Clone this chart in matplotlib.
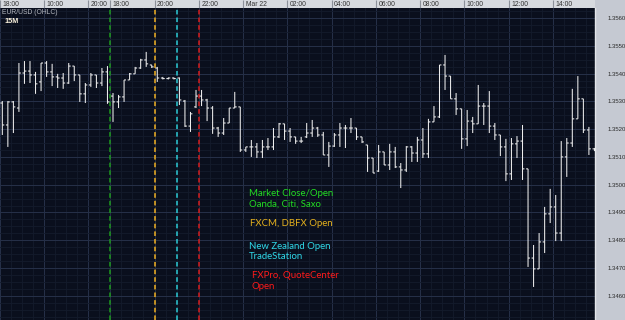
import matplotlib
matplotlib.use("Agg")
import matplotlib.pyplot as plt
import numpy as np

# EUR/USD 15 minute bars
opens = [1.35294, 1.35215, 1.35298, 1.35276, 1.35402, 1.35409, 1.35395, 1.35370, 1.35438, 1.35406,
         1.35388, 1.35384, 1.35366, 1.35427, 1.35395, 1.35327, 1.35359, 1.35395, 1.35366, 1.35406,
         1.35319, 1.35298, 1.35316, 1.35377, 1.35399, 1.35420, 1.35449, 1.35431, 1.35420, 1.35384,
         1.35382, 1.35384, 1.35384, 1.35301, 1.35211, 1.35280, 1.35319, 1.35305, 1.35276, 1.35204,
         1.35186, 1.35222, 1.35276, 1.35280, 1.35125, 1.35136, 1.35136, 1.35118, 1.35136, 1.35136,
         1.35172, 1.35219, 1.35193, 1.35172, 1.35157, 1.35172, 1.35186, 1.35204, 1.35179, 1.35107,
         1.35139, 1.35179, 1.35204, 1.35204, 1.35204, 1.35172, 1.35143, 1.35096, 1.35049, 1.35118,
         1.35071, 1.35118, 1.35064, 1.35053, 1.35136, 1.35114, 1.35161, 1.35111, 1.35226, 1.35244,
         1.35431, 1.35391, 1.35309, 1.35273, 1.35165, 1.35229, 1.35219, 1.35283, 1.35283, 1.35211,
         1.35179, 1.35136, 1.35039, 1.35147, 1.35157, 1.35057, 1.34736, 1.34697, 1.34794, 1.34895,
         1.34920, 1.34826, 1.35100, 1.35150, 1.35237, 1.35309, 1.35197, 1.35129]
highs = [1.35301, 1.35301, 1.35301, 1.35438, 1.35445, 1.35445, 1.35406, 1.35438, 1.35445, 1.35435,
         1.35399, 1.35402, 1.35438, 1.35427, 1.35395, 1.35366, 1.35402, 1.35395, 1.35420, 1.35427,
         1.35330, 1.35323, 1.35377, 1.35402, 1.35424, 1.35453, 1.35478, 1.35431, 1.35424, 1.35388,
         1.35386, 1.35386, 1.35386, 1.35305, 1.35262, 1.35341, 1.35341, 1.35309, 1.35283, 1.35208,
         1.35240, 1.35276, 1.35334, 1.35280, 1.35136, 1.35161, 1.35150, 1.35161, 1.35168, 1.35204,
         1.35222, 1.35219, 1.35204, 1.35172, 1.35172, 1.35222, 1.35233, 1.35208, 1.35190, 1.35154,
         1.35186, 1.35222, 1.35215, 1.35240, 1.35204, 1.35172, 1.35143, 1.35096, 1.35143, 1.35118,
         1.35147, 1.35136, 1.35078, 1.35139, 1.35139, 1.35172, 1.35204, 1.35237, 1.35283, 1.35431,
         1.35467, 1.35391, 1.35330, 1.35273, 1.35269, 1.35244, 1.35359, 1.35294, 1.35337, 1.35222,
         1.35179, 1.35165, 1.35168, 1.35175, 1.35215, 1.35057, 1.34783, 1.34826, 1.34920, 1.34985,
         1.34963, 1.35157, 1.35168, 1.35345, 1.35391, 1.35309, 1.35208, 1.35132]
lows = [1.35179, 1.35136, 1.35186, 1.35262, 1.35363, 1.35366, 1.35327, 1.35337, 1.35388, 1.35355,
        1.35348, 1.35345, 1.35363, 1.35373, 1.35298, 1.35294, 1.35352, 1.35348, 1.35355, 1.35291,
        1.35226, 1.35276, 1.35298, 1.35377, 1.35399, 1.35417, 1.35424, 1.35420, 1.35370, 1.35379,
        1.35379, 1.35379, 1.35287, 1.35208, 1.35190, 1.35276, 1.35283, 1.35229, 1.35183, 1.35172,
        1.35179, 1.35222, 1.35276, 1.35118, 1.35118, 1.35100, 1.35096, 1.35096, 1.35125, 1.35125,
        1.35168, 1.35161, 1.35154, 1.35147, 1.35150, 1.35168, 1.35172, 1.35172, 1.35107, 1.35064,
        1.35136, 1.35136, 1.35132, 1.35186, 1.35161, 1.35150, 1.35046, 1.35042, 1.35046, 1.35071,
        1.35053, 1.35060, 1.34988, 1.35046, 1.35082, 1.35082, 1.35096, 1.35096, 1.35226, 1.35240,
        1.35341, 1.35309, 1.35251, 1.35129, 1.35139, 1.35186, 1.35219, 1.35215, 1.35186, 1.35161,
        1.35103, 1.35013, 1.35017, 1.35096, 1.35017, 1.34704, 1.34632, 1.34697, 1.34754, 1.34862,
        1.34797, 1.34797, 1.35028, 1.35136, 1.35237, 1.35186, 1.35107, 1.35121]
closes = [1.35215, 1.35298, 1.35280, 1.35402, 1.35409, 1.35395, 1.35363, 1.35438, 1.35406, 1.35388,
          1.35384, 1.35366, 1.35427, 1.35395, 1.35327, 1.35359, 1.35395, 1.35366, 1.35406, 1.35298,
          1.35298, 1.35316, 1.35377, 1.35399, 1.35420, 1.35449, 1.35435, 1.35424, 1.35384, 1.35382,
          1.35384, 1.35382, 1.35305, 1.35211, 1.35255, 1.35319, 1.35305, 1.35276, 1.35204, 1.35186,
          1.35222, 1.35276, 1.35280, 1.35125, 1.35136, 1.35136, 1.35118, 1.35136, 1.35136, 1.35172,
          1.35219, 1.35193, 1.35172, 1.35157, 1.35157, 1.35186, 1.35204, 1.35179, 1.35107, 1.35139,
          1.35179, 1.35204, 1.35204, 1.35204, 1.35172, 1.35154, 1.35096, 1.35042, 1.35118, 1.35071,
          1.35118, 1.35064, 1.35053, 1.35136, 1.35114, 1.35161, 1.35111, 1.35226, 1.35244, 1.35431,
          1.35391, 1.35309, 1.35273, 1.35165, 1.35229, 1.35219, 1.35283, 1.35283, 1.35211, 1.35179,
          1.35136, 1.35039, 1.35147, 1.35157, 1.35057, 1.34736, 1.34697, 1.34794, 1.34895, 1.34920,
          1.34826, 1.35100, 1.35150, 1.35237, 1.35309, 1.35197, 1.35129, 1.35127]

# time axis: bar boundaries where the header labels start
time_bounds = [-0.5, 7.5, 15.5, 19.5, 27.5, 35.5, 43.5, 51.5, 59.5, 67.5, 75.5, 83.5, 91.5, 99.5]
time_labels = ["18:00", "10:00", "20:00", "18:00", "20:00", "22:00", "Mar 22",
               "02:00", "04:00", "06:00", "08:00", "10:00", "12:00", "14:00"]
price_ticks = [1.3460, 1.3470, 1.3480, 1.3490, 1.3500, 1.3510,
               1.3520, 1.3530, 1.3540, 1.3550, 1.3560]

# session opens (bar boundary) and their notes
event_bars = [19.5, 27.5, 31.5, 35.5]
event_notes = ["Market Close/Open\nOanda, Citi, Saxo", "FXCM, DBFX Open",
               "New Zealand Open\nTradeStation", "FXPro, QuoteCenter\nOpen"]
line_colors = ["#1c9a1c", "#f0b020", "#2ccbd6", "#d81c1c"]
text_colors = ["#22dd22", "#e6b21e", "#2fd8e8", "#ff1a1a"]

W, H = 625, 320
plot_right = 595
head_h = 8

fig = plt.figure(figsize=(W / 100, H / 100), dpi=100)
fig.patch.set_facecolor("#c5c9d2")

ax = fig.add_axes([0, 0, plot_right / W, (H - head_h) / H])
ax.set_facecolor("#0a0f1d")
n = len(opens)
x = np.arange(n)
ax.set_xlim(-0.42, 107.1)
ax.set_ylim(1.34513, 1.35636)

#### Grid ####
for b in np.arange(-0.5, n + 1, 2):
    ax.axvline(b, color="#141b2c", lw=0.6, zorder=0)
for b in time_bounds:
    ax.axvline(b, color="#263048", lw=0.7, zorder=0)
for p in np.arange(1.3450, 1.3570, 0.00025):
    ax.axhline(p, color="#141b2c", lw=0.6, zorder=0)
for p in price_ticks:
    ax.axhline(p, color="#263048", lw=0.7, zorder=0)

# Session lines
for b, c in zip(event_bars, line_colors):
    ax.axvline(b, color=c, lw=1.1, ls=(0, (3, 2)), zorder=1)

# OHLC bars
bar_c = "#eeeeee"
ax.vlines(x, lows, highs, colors=bar_c, lw=0.75, snap=False, zorder=2)
ax.hlines(opens, x - 0.35, x, colors=bar_c, lw=0.75, snap=False, zorder=2)
ax.hlines(closes, x, x + 0.35, colors=bar_c, lw=0.75, snap=False, zorder=2)

# Price axis on the right
ax.yaxis.tick_right()
ax.set_yticks(price_ticks)
ax.set_yticklabels([f"{p:.4f}" for p in price_ticks])
ax.tick_params(axis="y", length=0, pad=9, labelsize=4.3, labelcolor="#2a2a2a")
for lab in ax.get_yticklabels():
    lab.set_family("Liberation Sans")
ax.set_xticks([])
for s in ax.spines.values():
    s.set_visible(False)
ax.spines["right"].set_visible(True)
ax.spines["right"].set_color("#e4e6ea")
ax.spines["right"].set_linewidth(1.0)

# Header with times
hax = fig.add_axes([0, (H - head_h) / H, plot_right / W, head_h / H], sharex=ax)
hax.set_facecolor("#d7dadf")
hax.set_ylim(0, 1)
hax.vlines(time_bounds, 0, 1, colors="#8b9099", lw=0.8)
for b, lab in zip(time_bounds, time_labels):
    hax.text(b + 0.45, 0.45, lab, ha="left", va="center", fontsize=4.9,
             family="Liberation Sans", color="#333333")
hax.tick_params(left=False, bottom=False, labelleft=False, labelbottom=False,
                right=False, labelright=False)
for s in hax.spines.values():
    s.set_visible(False)

# Titles top-left
fig.text(2 / W, 1 - 12.5 / H, "EUR/USD (OHLC)", ha="left", va="center",
         fontsize=4.9, family="Liberation Sans", color="#b4b8c0")
fig.text(4 / W, 1 - 21.5 / H, "15M", ha="left", va="center",
         fontsize=5.2, family="Liberation Sans", weight="bold", color="#fff6e0")

# Notes
note_pos = [(249, 189), (250, 219), (249, 242), (251.5, 271.5)]
for (px, py), note, c in zip(note_pos, event_notes, text_colors):
    fig.text(px / W, 1 - py / H, note, ha="left", va="top", fontsize=6.9,
             family="Lato", color=c, linespacing=1.2)

fig.savefig("out.png", dpi=100, facecolor=fig.get_facecolor())
